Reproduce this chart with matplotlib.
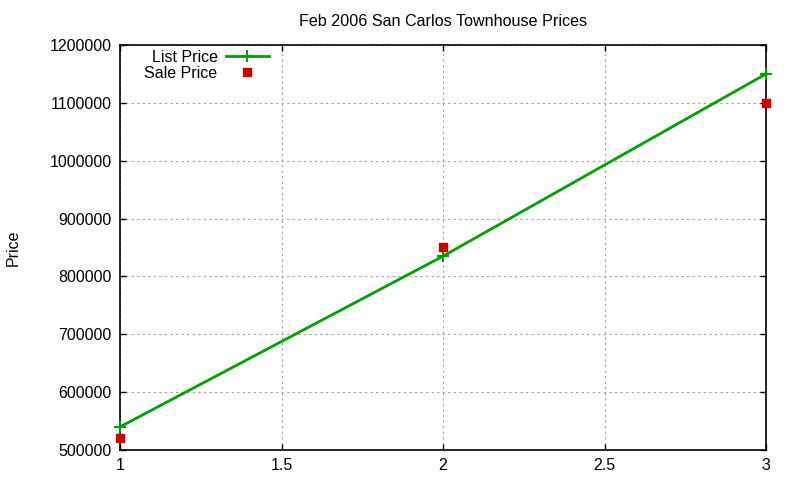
import matplotlib
matplotlib.use("Agg")
from matplotlib import pyplot as plt

# данные
units = [1, 2, 3]
list_price = [540000, 835000, 1150000]
sale_price = [520000, 850000, 1100000]
x_ticks = [1, 1.5, 2, 2.5, 3]
x_tick_labels = ["1", "1.5", "2", "2.5", "3"]
y_ticks = [500000, 600000, 700000, 800000, 900000, 1000000, 1100000, 1200000]

plt.rcParams['font.family'] = ['Liberation Sans', 'DejaVu Sans']

fig = plt.figure(figsize=(8, 4.8), dpi=100)
ax = fig.add_axes([0.15, 0.0625, 0.8075, 0.84375])

ax.plot(units, list_price, color='#00a000', linewidth=2, marker='+',
        markersize=8, markeredgewidth=1.5, label='List Price', zorder=3,
        clip_on=False)
ax.plot(units, sale_price, color='#cc0000', linestyle='none', marker='s',
        markersize=6, label='Sale Price', zorder=4, clip_on=False)

ax.set_xlim(1, 3)
ax.set_ylim(500000, 1200000)
ax.set_xticks(x_ticks)
ax.set_xticklabels(x_tick_labels)
ax.set_yticks(y_ticks)
ax.set_yticklabels([str(v) for v in y_ticks])
ax.tick_params(direction='in', length=4, width=1, labelsize=11.5,
               top=True, right=True, pad=6)
ax.grid(True, color='#a0a0a0', linestyle=(0, (2, 3)), linewidth=0.8)
for s in ax.spines.values():
    s.set_linewidth(1.2)

# подпись оси Y слева у края
fig.text(0.016, 0.483, 'Price', rotation=90, va='center', ha='center',
         fontsize=11.5)
ax.set_title('Feb 2006 San Carlos Townhouse Prices', fontsize=11.6, pad=14)

leg = ax.legend(loc='upper left', bbox_to_anchor=(0.023, 1.012), frameon=False,
                markerfirst=False, fontsize=11.5, handlelength=2.7,
                borderaxespad=0.2, labelspacing=0.05, handletextpad=0.5)
for t in leg.get_texts():
    t.set_ha('right')

fig.savefig('out.png', dpi=100)
plt.close(fig)
